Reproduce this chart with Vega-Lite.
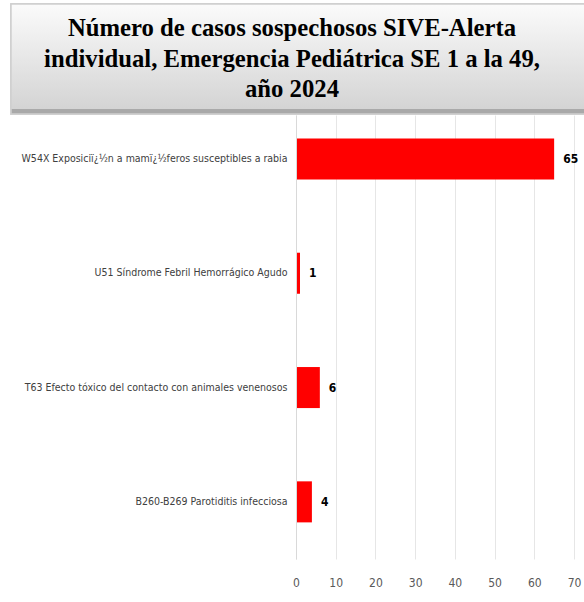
{
  "$schema": "https://vega.github.io/schema/vega-lite/v6.json",
  "padding": {"left": 10, "top": 3, "right": 0, "bottom": 0},
  "spacing": 0,
  "background": "white",
  "config": {"view": {"stroke": null}},
  "vconcat": [
    {
      "width": 580,
      "height": 110,
      "data": {"values": [
        {"i": 0, "line": "Número de casos sospechosos SIVE-Alerta"},
        {"i": 1, "line": "individual, Emergencia Pediátrica SE 1 a la 49,"},
        {"i": 2, "line": "año 2024"}
      ]},
      "layer": [
        {
          "mark": {"type": "rect", "stroke": "#cfcfcf", "strokeWidth": 1.5,
            "color": {"gradient": "linear", "x1": 0, "y1": 0, "x2": 0, "y2": 1,
              "stops": [{"offset": 0, "color": "#fbfbfb"}, {"offset": 0.95, "color": "#d4d4d4"}, {"offset": 0.951, "color": "#a9a9a9"}, {"offset": 1, "color": "#a9a9a9"}]}},
          "encoding": {}
        },
        {
          "mark": {"type": "text", "font": "Liberation Serif", "fontWeight": "bold", "fontSize": 24.7, "color": "#000000", "align": "center", "baseline": "middle"},
          "encoding": {
            "y": {"field": "i", "type": "quantitative", "scale": {"domain": [-0.82, 2.787], "reverse": true}, "axis": null},
            "x": {"datum": 0.4845, "type": "quantitative", "scale": {"domain": [0, 1]}, "axis": null},
            "text": {"field": "line"}
          }
        }
      ]
    },
    {
      "width": 563,
      "height": 444,
      "data": {"values": [
        {"cat": "W54X Exposiciï¿½n a mamï¿½feros susceptibles a rabia", "casos": 65},
        {"cat": "U51 Síndrome Febril Hemorrágico Agudo", "casos": 1},
        {"cat": "T63 Efecto tóxico del contacto con animales venenosos", "casos": 6},
        {"cat": "B260-B269 Parotiditis infecciosa", "casos": 4}
      ]},
      "encoding": {
        "y": {"field": "cat", "type": "nominal", "sort": null,
          "scale": {"paddingInner": 0.641, "paddingOuter": 0.2626, "align": 0.39},
          "axis": {"title": null, "offset": -285, "zindex": 1, "labelFont": "DejaVu Sans Condensed", "labelFontSize": 10.5, "labelColor": "#404040",
            "labelPadding": 9, "labelLimit": 400, "domainColor": "#d9d9d9", "ticks": false}},
        "x": {"field": "casos", "type": "quantitative",
          "scale": {"domain": [-71.77, 70], "nice": false, "zero": false},
          "axis": {"title": null, "values": [0,10,20,30,40,50,60,70], "labelFont": "DejaVu Sans Condensed", "labelFontSize": 12,
            "labelColor": "#595959", "labelPadding": 18, "domain": false, "ticks": false,
            "gridColor": "#e6e6e6", "labelFlush": false}}
      },
      "layer": [
        {"mark": {"type": "bar", "color": "#ff0000"}},
        {"mark": {"type": "text", "align": "left", "dx": 9, "font": "DejaVu Sans Condensed", "fontWeight": "bold", "fontSize": 12, "color": "#000000"},
          "encoding": {"text": {"field": "casos", "type": "quantitative"}}}
      ]
    }
  ]
}
